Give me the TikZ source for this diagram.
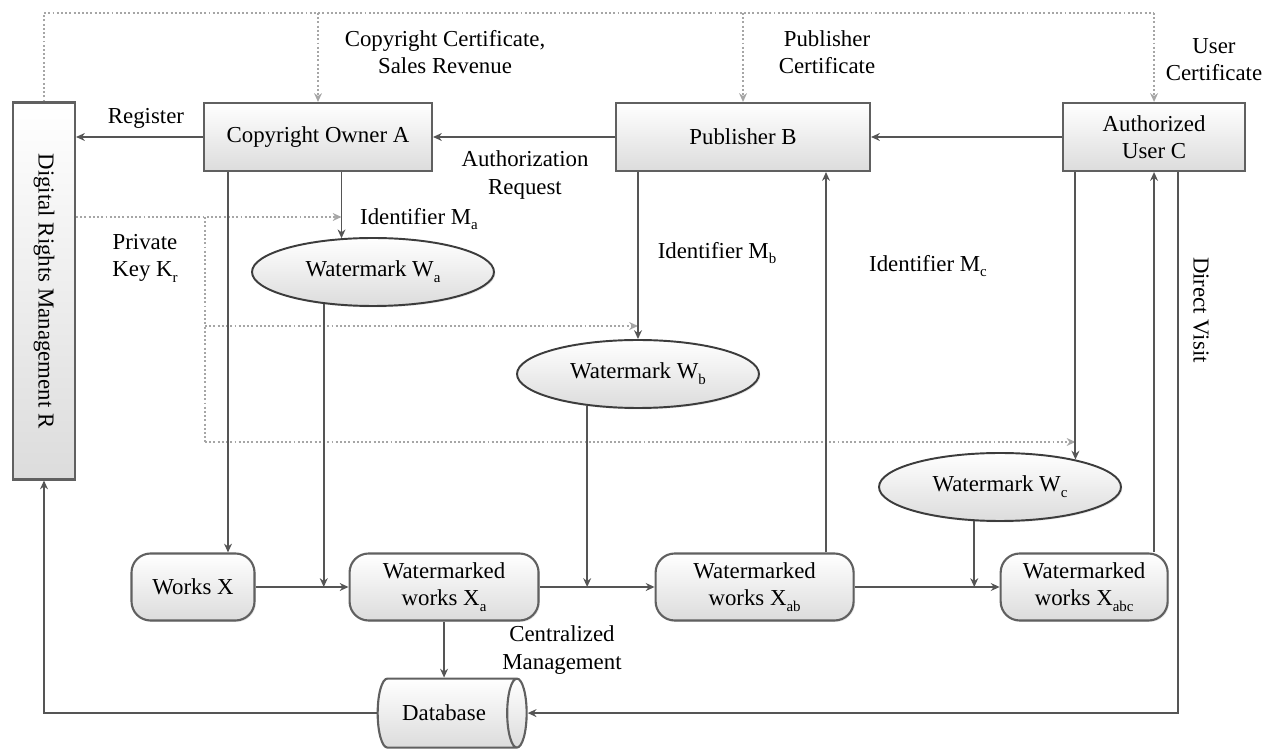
\documentclass[tikz,border=0pt]{standalone}
\usepackage{fontspec}
\setmainfont{Liberation Serif}
\usepackage{graphicx}
\usepackage{tikz}
\usetikzlibrary{arrows.meta,positioning,shapes.geometric,shadows}
\definecolor{linegrey}{HTML}{555555}
\definecolor{boxgrey}{HTML}{606060}
\definecolor{ovalgrey}{HTML}{3C3C3C}
\definecolor{dotgrey}{HTML}{A6A6A6}
\definecolor{fillgrey}{HTML}{DCDCDC}
\newcommand{\lowsub}[1]{\raisebox{-0.55ex}{\fontsize{8.5}{9}\selectfont #1}}
\tikzset{
every node/.style={font=\fontsize{13}{15.5}\selectfont},
party_box/.style={rectangle, draw=boxgrey, line width=1.2pt, top color=white, bottom color=fillgrey, minimum height=1.36cm, align=center, drop shadow={shadow xshift=0.8pt, shadow yshift=-0.8pt, opacity=0.2}},
mark_oval/.style={ellipse, draw=ovalgrey, line width=1.1pt, top color=white, bottom color=fillgrey, minimum width=4.84cm, minimum height=1.36cm, drop shadow={shadow xshift=0.8pt, shadow yshift=-0.8pt, opacity=0.2}},
works_box/.style={rectangle, rounded corners=0.38cm, draw=boxgrey, line width=1.2pt, top color=white, bottom color=fillgrey, minimum height=1.34cm, align=center, drop shadow={shadow xshift=0.8pt, shadow yshift=-0.8pt, opacity=0.2}},
db_cyl/.style={cylinder, draw=boxgrey, line width=1.2pt, aspect=0.7, top color=white, bottom color=fillgrey, minimum width=1.38cm, minimum height=2.98cm},
flow/.style={draw=linegrey, line width=1.1pt, -{Stealth[length=5pt,width=4.5pt]}},
dot_flow/.style={draw=dotgrey, line width=0.9pt, dash pattern=on 1.1pt off 1.3pt},
dot_arrow/.style={dot_flow, -{Stealth[length=5pt,width=4.5pt]}},
tag/.style={align=center}
}

\begin{document}
\begin{tikzpicture}[x=0.02cm, y=-0.02cm]
    \useasboundingbox (0,0) rectangle (1275,749);
    \node[party_box, minimum width=1.24cm, minimum height=7.54cm] (drm) at (44,291) {\rotatebox{-90}{Digital Rights Management R}};
    \node[party_box, minimum width=4.56cm] (owner) at (318,137) {Copyright Owner A};
    \node[party_box, minimum width=5.08cm, right=3.64cm of owner] (publisher) {Publisher B};
    \node[party_box, minimum width=3.64cm, right=3.82cm of publisher] (user) {Authorized\\User C};

    \node[mark_oval] (wa) at (373,272) {Watermark W\lowsub{a}};
    \node[mark_oval] (wb) at (638,374) {Watermark W\lowsub{b}};
    \node[mark_oval] (wc) at (1000,487) {Watermark W\lowsub{c}};

    \node[works_box, minimum width=2.46cm] (works) at (193,587) {Works X};
    \node[works_box, minimum width=3.78cm, right=1.86cm of works] (xa) {Watermarked\\works X\lowsub{a}};
    \node[works_box, minimum width=3.96cm, right=2.3cm of xa] (xab) {Watermarked\\works X\lowsub{ab}};
    \node[works_box, minimum width=3.34cm, right=2.9cm of xab] (xabc) {Watermarked\\works X\lowsub{abc}};
    \node[db_cyl, below=1.12cm of xa] (db) {Database};

    \coordinate (rail) at (0,13);
    \coordinate (key_a) at (205,217);
    \coordinate (key_b) at (205,326);
    \coordinate (key_c) at (205,442);
    \coordinate (lane_x) at (228,0);
    \coordinate (lane_b) at (826,0);
    \coordinate (visit) at (1178,0);

    \draw[dot_flow] (drm.north) |- (rail -| user.north);
    \foreach \who in {owner,publisher,user}
        \draw[dot_arrow] (rail -| \who.north) -- (\who.north);
    \draw[dot_arrow] (drm.east |- key_a) -- (key_a -| wa.133);
    \draw[dot_flow] (key_a) -- (key_c);
    \draw[dot_arrow] (key_b) -- (key_b -| wb.north);
    \draw[dot_arrow] (key_c) -- (key_c -| wc.20);

    \draw[flow] (owner.west) -- (owner.west -| drm.east);
    \draw[flow] (publisher.west) -- (owner.east);
    \draw[flow] (user.west) -- (publisher.east);
    \draw[flow] (owner.south -| lane_x) -- (works.north -| lane_x);
    \draw[flow] (owner.south -| wa.133) -- (wa.133);
    \draw[flow] (publisher.south -| wb.north) -- (wb.north);
    \draw[flow] (user.south -| wc.20) -- (wc.20);
    \draw[flow] (works.east) -- (xa.west);
    \draw[flow] (xa.east) -- (xab.west);
    \draw[flow] (xab.east) -- (xabc.west);
    \draw[flow] (wa.213) -- (wa.213 |- works.east);
    \draw[flow] (wb.212) -- (wb.212 |- xa.east);
    \draw[flow] (wc.233) -- (wc.233 |- xab.east);
    \draw[flow] (xab.north -| lane_b) -- (publisher.south -| lane_b);
    \draw[flow] (xabc.north -| user.south) -- (user.south);
    \draw[flow] (xa.south) -- (db.north);
    \draw[flow] (user.south -| visit) |- (db.east);
    \draw[flow] (db.west) -| (drm.south);

    \node[tag] (cert_a) at (445,52) {Copyright Certificate,\\Sales Revenue};
    \node[tag] (cert_b) at (827,52) {Publisher\\Certificate};
    \node[tag] (cert_c) at (1214,60) {User\\Certificate};
    \node[tag] (reg_lbl) at (146,118) {Register};
    \node[tag] (req_lbl) at (525,175) {Authorization\\Request};
    \node[tag, anchor=west] (ma_lbl) at (354,219) {Identifier M\lowsub{a}};
    \node[tag] (mb_lbl) at (717,253) {Identifier M\lowsub{b}};
    \node[tag] (mc_lbl) at (928,266) {Identifier M\lowsub{c}};
    \node[tag] (key_lbl) at (145,258) {Private\\Key K\lowsub{r}};
    \node[tag] (cm_lbl) at (562,650) {Centralized\\Management};
    \node[tag, rotate=-90] (visit_lbl) at (1201,310) {Direct Visit};
\end{tikzpicture}
\end{document}
